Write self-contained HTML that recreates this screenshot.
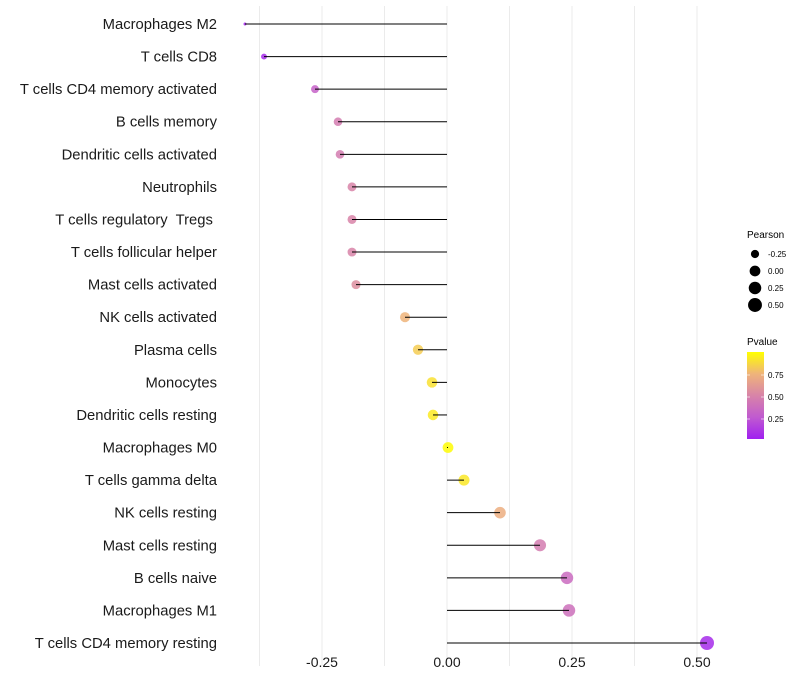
<!DOCTYPE html>
<html><head><meta charset="utf-8"><style>
body{margin:0;background:#fff;}
svg{display:block;font-family:"Liberation Sans",Arial,sans-serif;}
text{white-space:pre;}
</style></head><body>
<svg id="chart" width="800" height="700" viewBox="0 0 800 700"></svg>
<script>
const categories=["Macrophages M2","T cells CD8","T cells CD4 memory activated","B cells memory","Dendritic cells activated","Neutrophils","T cells regulatory  Tregs ","T cells follicular helper","Mast cells activated","NK cells activated","Plasma cells","Monocytes","Dendritic cells resting","Macrophages M0","T cells gamma delta","NK cells resting","Mast cells resting","B cells naive","Macrophages M1","T cells CD4 memory resting"];
const pearson=[-0.404,-0.366,-0.264,-0.218,-0.214,-0.19,-0.19,-0.19,-0.182,-0.084,-0.058,-0.03,-0.028,0.002,0.034,0.106,0.186,0.24,0.244,0.52];
const pvalue=[0.02,0.05,0.3,0.45,0.45,0.5,0.5,0.5,0.55,0.75,0.83,0.9,0.93,0.99,0.92,0.72,0.45,0.35,0.38,0.05];
const xTicks=[-0.25,0,0.25,0.5];
const xTickLabels=["-0.25","0.00","0.25","0.50"];
const sizeLegend=[-0.25,0,0.25,0.5];
const sizeLegendLabels=["-0.25","0.00","0.25","0.50"];
const colorTicks=[0.25,0.5,0.75];
const colorTickLabels=["0.25","0.50","0.75"];

const svg=document.getElementById('chart');
const NS="http://www.w3.org/2000/svg";
function mk(t,a,parent){const e=document.createElementNS(NS,t);for(const k in a)e.setAttribute(k,a[k]);(parent||svg).appendChild(e);return e;}
const x=v=>447+v*500;
const y=i=>24+i*(643-24)/(categories.length-1);
const r=v=>1.5+5.5*Math.pow(Math.max(0,(v+0.404)/0.924),0.42);
const stops=[[0,[160,32,240]],[0.25,[192,90,208]],[0.5,[216,132,168]],[0.75,[239,180,122]],[1,[255,255,0]]];
function col(p){for(let i=1;i<stops.length;i++){if(p<=stops[i][0]){const a=stops[i-1],b=stops[i];const t=(p-a[0])/(b[0]-a[0]);const c=a[1].map((v,k)=>Math.round(v+(b[1][k]-v)*t));return `rgb(${c.join(',')})`;}}return 'rgb(255,255,0)';}

for(let g=-0.375;g<=0.5;g+=0.125){
  const l=mk('line',{x1:x(g),x2:x(g),y1:6,y2:666,stroke:'#ebebeb','stroke-width':1});
  
  
}
categories.forEach((c,i)=>{
  const t=mk('text',{x:217,y:y(i)+5,'text-anchor':'end','font-size':14.8,fill:'#1a1a1a'});
  t.textContent=c;
  
  
});
pearson.forEach((v,i)=>{
  const c=mk('circle',{cx:x(v),cy:y(i),r:r(v),fill:col(pvalue[i]),'fill-opacity':0.85});
  
  
});
pearson.forEach((v,i)=>{
  const l=mk('line',{x1:x(v),x2:x(0),y1:y(i),y2:y(i),stroke:'#000','stroke-width':1});
  
  
});
xTicks.forEach((v,i)=>{
  const t=mk('text',{x:x(v),y:667,'text-anchor':'middle','font-size':14,fill:'#1a1a1a'});
  t.textContent=xTickLabels[i];
  
  
});
const st=mk('text',{x:747,y:238,'font-size':10,fill:'#000'});st.textContent='Pearson';


sizeLegend.forEach((v,i)=>{
  const cy=254+i*17;
  const c=mk('circle',{cx:755,cy:cy,r:r(v),fill:'#000'});
  
  
  const t=mk('text',{x:768,y:cy+3,'font-size':8,fill:'#000'});t.textContent=sizeLegendLabels[i];
  
  
});
const ct=mk('text',{x:747,y:345,'font-size':10,fill:'#000'});ct.textContent='Pvalue';


const defs=mk('defs',{});
const lg=mk('linearGradient',{id:'pg',x1:0,y1:1,x2:0,y2:0},defs);
stops.forEach(s=>mk('stop',{offset:s[0],'stop-color':col(s[0])},lg));
const bar=mk('rect',{x:747,y:352,width:17,height:87,fill:'url(#pg)'});


colorTicks.forEach((v,i)=>{
  const yy=441-v*88;
  mk('line',{x1:747,x2:750,y1:yy,y2:yy,stroke:'#fff','stroke-opacity':0.6});
  mk('line',{x1:761,x2:764,y1:yy,y2:yy,stroke:'#fff','stroke-opacity':0.6});
  const t=mk('text',{x:768,y:yy+3,'font-size':8,fill:'#000'});t.textContent=colorTickLabels[i];
  
  
});
</script>
</body></html>
